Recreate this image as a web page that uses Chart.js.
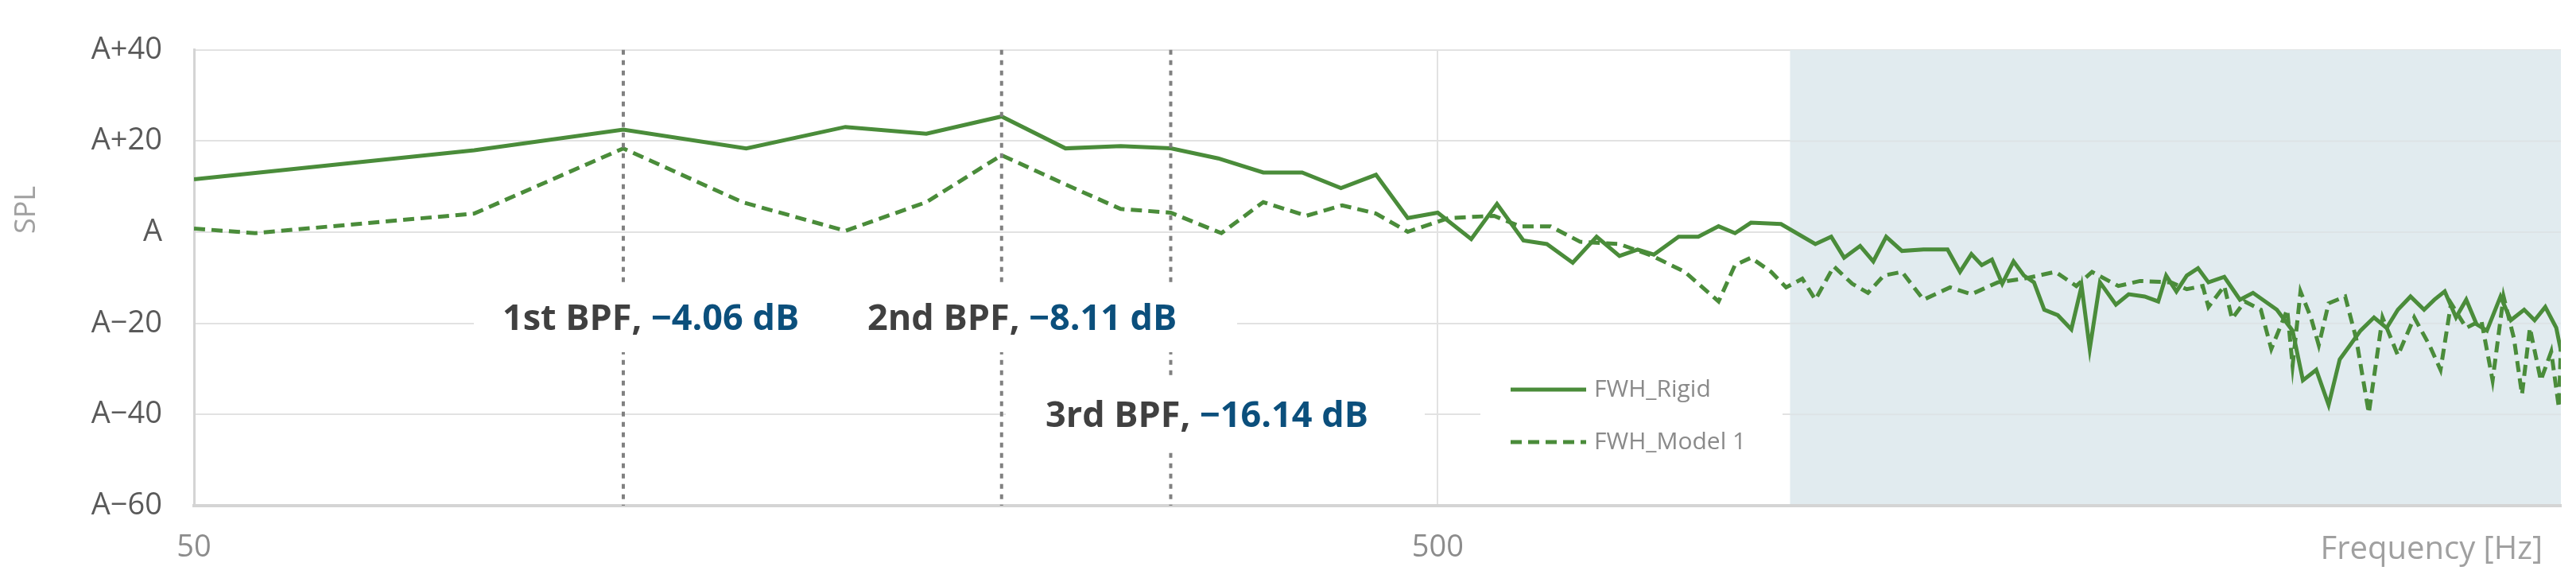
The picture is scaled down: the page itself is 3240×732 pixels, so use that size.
<!DOCTYPE html>
<html>
<head>
<meta charset="utf-8">
<script src="https://cdn.jsdelivr.net/npm/chart.js@4/dist/chart.umd.min.js"></script>
<style>
  body { margin: 0; background: #fff; }
</style>
</head>
<body>
<canvas id="splChart" width="3240" height="732"></canvas>
<script>
// Rigid (solid) spectrum
const rigidFreq = [50, 84, 110.7, 139, 167, 194, 223, 251, 278, 305, 333, 362, 389, 418, 446, 473, 500, 532, 558, 586, 612, 642, 671, 700, 724, 746, 781, 810, 841, 867, 893, 944, 1006, 1036, 1061, 1093, 1120, 1147, 1181, 1229, 1285, 1315, 1343, 1369, 1395, 1422, 1452, 1480, 1508, 1537, 1576, 1616, 1647, 1672, 1704, 1755, 1797, 1851, 1898, 1926, 1963, 2001, 2043, 2083, 2145, 2208, 2262, 2364, 2434, 2481, 2543, 2602, 2656, 2707, 2760, 2830, 2897, 2958, 3028, 3105, 3165, 3226, 3294, 3357, 3422, 3488, 3577, 3646, 3737, 3810, 3886, 3966, 4000];
const rigidSpl = [11.6, 18, 22.5, 18.4, 23.1, 21.6, 25.4, 18.4, 18.9, 18.4, 16.2, 13.1, 13.1, 9.7, 12.6, 3.1, 4.3, -1.5, 6.2, -1.8, -2.6, -6.7, -1, -5.2, -3.8, -4.9, -1, -1, 1.3, -0.2, 2.1, 1.8, -2.6, -1, -5.6, -3, -6.4, -1, -4.1, -3.8, -3.8, -8.7, -4.8, -7.2, -6, -11.3, -6.4, -9.5, -11, -17, -18.2, -21.3, -11.8, -25.6, -11, -15.9, -13.6, -14.1, -15.2, -9.5, -13, -9.5, -7.9, -11, -9.8, -14.8, -13.3, -17, -21.6, -32.5, -30.2, -37.9, -27.9, -24.8, -21.6, -18.7, -21, -17, -14.1, -17, -14.8, -13, -18.7, -14.8, -20.2, -21.6, -14.1, -19.3, -17, -19.3, -16.4, -21, -26];

// Model 1 (dashed) spectrum
const modelFreq = [50, 56, 84, 110.7, 138, 167, 194, 223, 251, 278, 305, 335, 362, 392, 419, 446, 473, 510, 555, 582, 616, 651, 700, 744, 790, 841, 867, 893, 927, 953, 982, 1006, 1041, 1077, 1109, 1142, 1181, 1229, 1291, 1343, 1410, 1480, 1569, 1631, 1679, 1763, 1835, 1944, 2001, 2061, 2083, 2145, 2176, 2228, 2295, 2340, 2410, 2434, 2470, 2518, 2555, 2602, 2683, 2738, 2803, 2875, 2958, 3049, 3136, 3201, 3264, 3357, 3452, 3525, 3597, 3667, 3722, 3777, 3854, 3929, 3985, 4000];
const modelSpl = [0.8, -0.2, 4.1, 18.4, 6.6, 0.3, 6.6, 16.9, 10.5, 5.1, 4.3, -0.2, 6.6, 3.6, 5.9, 4.1, 0.1, 3.1, 3.6, 1.3, 1.3, -2.1, -2.6, -5.2, -8.7, -15.2, -7.2, -5.6, -8.7, -12.1, -10.2, -14.8, -7.5, -11.3, -13.3, -9.5, -8.7, -14.8, -12.1, -13.6, -11, -10.2, -8.7, -11.8, -8.7, -11.8, -10.7, -11, -12.5, -11.8, -16.4, -11.8, -19, -15.2, -17, -25.6, -17, -29.3, -13, -18.7, -24.8, -15.6, -14.1, -23.3, -39.7, -18.7, -27, -18.7, -24.8, -30.2, -15.6, -21, -19.3, -32.5, -14.1, -23.3, -35.6, -21, -32.5, -26.2, -38.5, -24.8];

const seriesNames = ['FWH_Rigid', 'FWH_Model 1'];
const xTicks = [50, 500];
const yTicks = [-60, -40, -20, 0, 20, 40];
const bpfFreq = [110.7, 223, 305];
const bpfNames = ['1st BPF, ', '2nd BPF, ', '3rd BPF, '];
const bpfDelta = ['\u22124.06 dB', '\u22128.11 dB', '\u221216.14 dB'];
const shadeFrom = 960;

const green = '#4a8c3a';

function toPoints(xs, ys) {
    return xs.map((x, i) => ({ x: x, y: ys[i] }));
}

const overlay = {
    id: 'overlay',
    beforeDatasetsDraw(chart) {
        const { ctx, chartArea, scales } = chart;
        const x0 = scales.x.getPixelForValue(shadeFrom);
        ctx.save();
        ctx.fillStyle = '#e1ebef';
        ctx.fillRect(x0, chartArea.top, chartArea.right - x0, chartArea.bottom - chartArea.top - 2);
        ctx.strokeStyle = '#dde3e6';
        ctx.lineWidth = 2;
        yTicks.forEach(v => {
            if (v === -60 || v === 40) return;
            const y = scales.y.getPixelForValue(v);
            ctx.beginPath(); ctx.moveTo(x0, y); ctx.lineTo(chartArea.right, y); ctx.stroke();
        });
        ctx.restore();
    },
    afterDatasetsDraw(chart) {
        const { ctx, chartArea, scales } = chart;
        ctx.save();
        // BPF dotted lines
        ctx.strokeStyle = '#808080';
        ctx.lineWidth = 4;
        ctx.setLineDash([6, 7]);
        bpfFreq.forEach(f => {
            const x = scales.x.getPixelForValue(f);
            ctx.beginPath(); ctx.moveTo(x, chartArea.top); ctx.lineTo(x, chartArea.bottom); ctx.stroke();
        });
        ctx.setLineDash([]);

        // label boxes
        ctx.fillStyle = '#fff';
        ctx.fillRect(596, 355, 960, 88);
        ctx.fillRect(1265, 474, 527, 93);
        ctx.fillRect(1862, 462, 380, 122);

        // label text
        const pos = [[632, 415], [1091, 415], [1315, 537]];
        bpfNames.forEach((name, i) => {
            ctx.font = 'bold 45px "Open Sans"';
            ctx.textBaseline = 'alphabetic';
            ctx.fillStyle = '#404040';
            ctx.fillText(name, pos[i][0], pos[i][1]);
            const w = ctx.measureText(name).width;
            ctx.fillStyle = '#0b4f7c';
            ctx.fillText(bpfDelta[i], pos[i][0] + w, pos[i][1]);
        });

        // legend
        const ly = [490, 556];
        const dashes = [[], [14, 8]];
        ctx.font = '30px "Open Sans"';
        ctx.textBaseline = 'middle';
        seriesNames.forEach((n, i) => {
            ctx.strokeStyle = green;
            ctx.lineWidth = 5;
            ctx.setLineDash(dashes[i]);
            ctx.beginPath(); ctx.moveTo(1900, ly[i]); ctx.lineTo(1995, ly[i]); ctx.stroke();
            ctx.setLineDash([]);
            ctx.fillStyle = '#8a8a8a';
            ctx.fillText(n, 2005, ly[i]);
        });

        // axis titles
        ctx.fillStyle = '#a0a0a0';
        ctx.font = '36px "Open Sans"';
        ctx.textAlign = 'center';
        ctx.translate(34, 264);
        ctx.rotate(-Math.PI / 2);
        ctx.fillText('SPL', 0, 0);
        ctx.setTransform(1, 0, 0, 1, 0, 0);
        ctx.font = '40px "Open Sans"';
        ctx.textAlign = 'right';
        ctx.fillText('Frequency [Hz]', 3198, 692);
        ctx.restore();
    }
};

new Chart(document.getElementById('splChart').getContext('2d'), {
    type: 'line',
    data: {
        datasets: [{
            label: seriesNames[0],
            data: toPoints(rigidFreq, rigidSpl),
            borderColor: green,
            borderWidth: 5,
            pointRadius: 0,
            tension: 0
        }, {
            label: seriesNames[1],
            data: toPoints(modelFreq, modelSpl),
            borderColor: green,
            borderWidth: 5,
            borderDash: [14, 8],
            pointRadius: 0,
            tension: 0
        }]
    },
    options: {
        responsive: false,
        devicePixelRatio: 1,
        animation: false,
        layout: { padding: { top: -10, right: 19, left: 0, bottom: 0 } },
        plugins: {
            legend: { display: false },
            tooltip: { enabled: false }
        },
        scales: {
            x: {
                type: 'logarithmic',
                min: 50,
                max: 4000,
                afterBuildTicks: s => { s.ticks = xTicks.map(v => ({ value: v })); },
                afterFit: s => { s.height = 96; },
                ticks: {
                    color: '#8c8c8c',
                    font: { family: 'Open Sans', size: 38 },
                    padding: 30,
                    maxRotation: 0,
                    callback: v => String(v)
                },
                grid: { color: '#e2e2e2', lineWidth: 2, drawTicks: false },
                border: { color: '#d4d4d4', width: 4 }
            },
            y: {
                min: -60,
                max: 40,
                afterBuildTicks: s => { s.ticks = yTicks.map(v => ({ value: v })); },
                afterFit: s => { s.width = 244; },
                ticks: {
                    color: '#595959',
                    font: { family: 'Open Sans', size: 38 },
                    padding: 40,
                    callback: v => v === 0 ? 'A' : (v > 0 ? 'A+' + v : 'A\u2212' + Math.abs(v))
                },
                grid: { color: '#e2e2e2', lineWidth: 2, drawTicks: false },
                border: { color: '#d4d4d4', width: 3 }
            }
        }
    },
    plugins: [overlay]
});
</script>
</body>
</html>
